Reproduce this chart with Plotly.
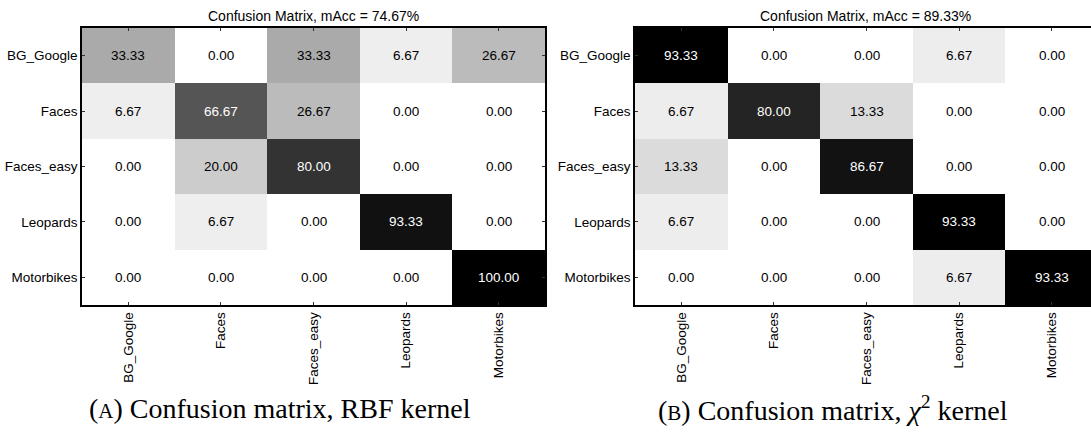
import plotly.graph_objects as go

# Class names shared by both confusion matrices
classes = ["BG_Google", "Faces", "Faces_easy", "Leopards", "Motorbikes"]

# Per-class recognition rates (%), rows = true class, cols = predicted class
cm_rbf = [
    [33.33, 0.00, 33.33, 6.67, 26.67],
    [6.67, 66.67, 26.67, 0.00, 0.00],
    [0.00, 20.00, 80.00, 0.00, 0.00],
    [0.00, 6.67, 0.00, 93.33, 0.00],
    [0.00, 0.00, 0.00, 0.00, 100.00],
]
cm_chi2 = [
    [93.33, 0.00, 0.00, 6.67, 0.00],
    [6.67, 80.00, 13.33, 0.00, 0.00],
    [13.33, 0.00, 86.67, 0.00, 0.00],
    [6.67, 0.00, 0.00, 93.33, 0.00],
    [0.00, 0.00, 0.00, 6.67, 93.33],
]
macc = [74.67, 89.33]
captions = [
    "(<span style='font-size:21px'>A</span>) Confusion matrix, RBF kernel",
    "(<span style='font-size:21px'>B</span>) Confusion matrix, <i>χ</i><sup>2</sup> kernel",
]

W, H = 1091, 435
SANS = "Liberation Sans, Arial, sans-serif"
SERIF = "Liberation Serif, Times New Roman, serif"
FS = 13.5

# panel geometry in pixels
panels = [
    dict(x0=82, x1=545),
    dict(x0=635, x1=1098),
]
y_top, y_bot = 28, 305
title_x = [313, 865]
caption_x = [280, 833]

fig = go.Figure()
annotations = []

for i, (cm, p) in enumerate(zip([cm_rbf, cm_chi2], panels)):
    xa = "x" if i == 0 else "x2"
    ya = "y" if i == 0 else "y2"
    zmax = max(max(r) for r in cm)
    fig.add_trace(go.Heatmap(
        z=cm, x=classes, y=classes,
        colorscale=[[0, "#ffffff"], [1, "#000000"]],
        zmin=0, zmax=zmax, showscale=False,
        xgap=0, ygap=0, hoverinfo="skip",
        xaxis=xa, yaxis=ya,
    ))
    # cell value labels
    for r, row in enumerate(cm):
        for c, v in enumerate(row):
            annotations.append(dict(
                x=classes[c], y=classes[r], xref=xa, yref=ya,
                text=f"{v:.2f}", showarrow=False,
                xanchor="center", yanchor="middle",
                font=dict(family=SANS, size=FS,
                          color="white" if v / zmax > 0.5 else "black"),
            ))
    # title above each matrix
    annotations.append(dict(
        x=title_x[i] / W, y=1 - 16 / H, xref="paper", yref="paper",
        xanchor="center", yanchor="middle",
        text=f"Confusion Matrix, mAcc = {macc[i]:.2f}%", showarrow=False,
        font=dict(family=SANS, size=14, color="black"),
    ))

# captions under the panels
for i, cap in enumerate(captions):
    annotations.append(dict(
        x=caption_x[i] / W, y=1 - 408 / H, xref="paper", yref="paper",
        xanchor="center", yanchor="middle",
        text=cap, showarrow=False,
        font=dict(family=SERIF, size=28, color="black"),
    ))

# axes
col_w = (panels[0]["x1"] - panels[0]["x0"]) / 5
axis_common = dict(
    showgrid=False, zeroline=False, showline=True, linecolor="black",
    linewidth=1.5, ticks="inside", ticklen=3, tickcolor="#333333",
    tickfont=dict(family=SANS, size=FS, color="black"),
)
xdom0 = [panels[0]["x0"] / W, panels[0]["x1"] / W]
xdom1 = [panels[1]["x0"] / W, 1.0]
x1_right = 4.5 - (panels[1]["x1"] - W) / col_w
ydom = [1 - y_bot / H, 1 - y_top / H]

fig.update_layout(
    width=W, height=H,
    margin=dict(l=0, r=0, t=0, b=0),
    paper_bgcolor="white", plot_bgcolor="white",
    annotations=annotations,
    xaxis=dict(domain=xdom0, anchor="y", range=[-0.5, 4.5], tickangle=-90,
               mirror="allticks", **axis_common),
    yaxis=dict(domain=ydom, anchor="x", range=[4.5, -0.5],
               mirror="allticks", **axis_common),
    xaxis2=dict(domain=xdom1, anchor="y2", range=[-0.5, x1_right], tickangle=-90,
                mirror="allticks", **axis_common),
    yaxis2=dict(domain=ydom, anchor="x2", range=[4.5, -0.5],
                mirror=False, **axis_common),
)

fig.write_html("out.html")
